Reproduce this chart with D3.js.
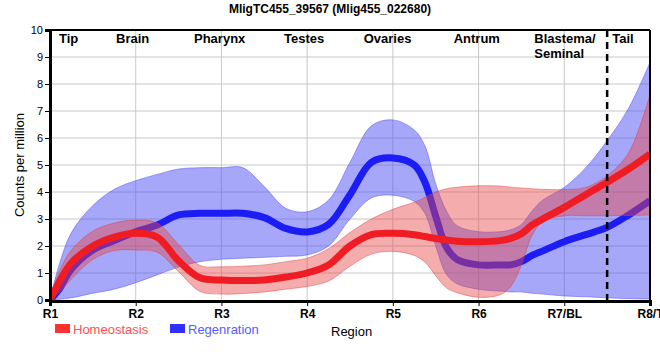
<!DOCTYPE html>
<html>
<head>
<meta charset="utf-8">
<script src="https://cdn.jsdelivr.net/npm/d3@7"></script>
<style>
    body { margin: 0; background: #fff; }
    svg text { font-family: "Liberation Sans", Arial, sans-serif; }
</style>
</head>
<body>
<div id="chart"></div>
<script>
// ---- data ----
const TITLE = 'MligTC455_39567 (Mlig455_022680)';
const regions = ['R1', 'R2', 'R3', 'R4', 'R5', 'R6', 'R7/BL', 'R8/T'];
const tissues = ['Tip', 'Brain', 'Pharynx', 'Testes', 'Ovaries', 'Antrum', 'Blastema/|Seminal', 'Tail'];
const yTicks = [0, 1, 2, 3, 4, 5, 6, 7, 8, 9, 10];
const legendNames = ['Homeostasis', 'Regenration'];

// position along the body (0 = R1 ... 7 = R8)
const xs = [0, 0.1, 0.25, 0.5, 0.75, 1, 1.25, 1.5, 1.75, 2, 2.25, 2.5, 2.75, 3, 3.25, 3.5, 3.75, 4,
    4.25, 4.375, 4.5, 4.625, 4.75, 5, 5.25, 5.375, 5.5, 5.625, 5.75, 6, 6.25, 6.5, 6.75, 7];

// homeostasis: fit + band
const homMean = [0, 0.62, 1.38, 2.0, 2.33, 2.47, 2.33, 1.45, 0.82, 0.74, 0.72, 0.74, 0.85, 1.0, 1.3, 2.0, 2.42, 2.47,
    2.42, 2.35, 2.28, 2.22, 2.18, 2.16, 2.2, 2.28, 2.45, 2.78, 3.0, 3.43, 3.9, 4.36, 4.85, 5.4];
const homUpper = [0, 1.0, 1.85, 2.55, 2.85, 2.96, 2.85, 2.05, 1.28, 1.23, 1.25, 1.3, 1.42, 1.55, 1.9, 2.5, 3.0, 3.36,
    3.62, 3.8, 4.0, 4.12, 4.18, 4.23, 4.22, 4.18, 4.15, 4.12, 4.1, 4.09, 4.17, 4.6, 5.45, 7.6];
const homLower = [0, 0.25, 0.78, 1.5, 1.83, 1.85, 1.77, 1.05, 0.32, 0.22, 0.24, 0.3, 0.4, 0.5, 0.7, 1.25, 1.7, 1.8,
    1.65, 1.4, 0.9, 0.45, 0.27, 0.1, 0.19, 0.5, 1.3, 2.4, 2.9, 3.12, 3.12, 3.12, 3.13, 3.15];

// regeneration: fit + band
const regMean = [0, 0.37, 1.15, 1.85, 2.2, 2.53, 2.78, 3.15, 3.21, 3.21, 3.21, 3.05, 2.65, 2.52, 2.8, 3.9, 5.1, 5.26,
    5.0, 4.35, 3.1, 1.95, 1.5, 1.3, 1.3, 1.3, 1.42, 1.65, 1.82, 2.16, 2.42, 2.69, 3.15, 3.68];
const regUpper = [0, 1.23, 2.5, 3.5, 4.1, 4.42, 4.65, 4.85, 4.9, 4.9, 4.9, 4.2, 3.4, 3.27, 3.7, 5.1, 6.45, 6.67,
    6.3, 5.7, 4.3, 3.3, 2.75, 2.53, 2.53, 2.6, 2.8, 3.3, 3.7, 4.17, 4.9, 5.9, 7.1, 8.8];
const regLower = [0, 0.02, 0.08, 0.25, 0.4, 0.64, 0.93, 1.22, 1.42, 1.51, 1.55, 1.58, 1.62, 1.67, 2.0, 3.0, 3.78, 3.88,
    3.65, 3.2, 2.0, 0.95, 0.6, 0.4, 0.33, 0.3, 0.3, 0.25, 0.22, 0.15, 0.12, 0.08, 0.05, 0.04];

// ---- layout ----
const WIDTH = 660;
const HEIGHT = 360;
const PLOT = { left: 50, right: 650, top: 30, bottom: 300 };
const TISSUE_X = [0.105, 0.77, 1.68, 2.73, 3.66, 4.71, 5.65, 6.56]; // left edge of each label, in region units
const DIVIDER = 6.5;  // dashed line between blastema and tail

const RED = '#f01c24';
const BLUE = '#1c1cf5';

const svg = d3.select('#chart').append('svg')
    .attr('width', WIDTH)
    .attr('height', HEIGHT);

const x = d3.scaleLinear().domain([0, regions.length - 1]).range([PLOT.left, PLOT.right]);
const y = d3.scaleLinear().domain([0, 10]).range([PLOT.bottom, PLOT.top]);

// grid
svg.append('g').selectAll('line').data(yTicks.slice(1, -1)).join('line')
    .attr('x1', PLOT.left).attr('x2', PLOT.right)
    .attr('y1', d => y(d)).attr('y2', d => y(d))
    .attr('stroke', '#c8c8c8');
svg.append('g').selectAll('line').data(d3.range(1, regions.length - 1)).join('line')
    .attr('x1', d => x(d)).attr('x2', d => x(d))
    .attr('y1', PLOT.top).attr('y2', PLOT.bottom)
    .attr('stroke', '#c8c8c8');

svg.append('clipPath').attr('id', 'plotClip')
    .append('rect')
    .attr('x', PLOT.left).attr('y', PLOT.top)
    .attr('width', PLOT.right - PLOT.left).attr('height', PLOT.bottom - PLOT.top);

const plot = svg.append('g').attr('clip-path', 'url(#plotClip)');

const curve = d3.curveCatmullRom.alpha(0.5);
const band = (lo, hi) => d3.area()
    .x((d, i) => x(xs[i]))
    .y0((d, i) => y(lo[i]))
    .y1((d, i) => y(hi[i]))
    .curve(curve)(xs);
const fit = vals => d3.line()
    .x((d, i) => x(xs[i]))
    .y((d, i) => y(vals[i]))
    .curve(curve)(xs);

// regeneration first, homeostasis drawn over it
plot.append('path').attr('d', band(regLower, regUpper))
    .attr('fill', 'rgb(80,80,245)').attr('fill-opacity', 0.5)
    .attr('stroke', 'rgb(80,80,245)').attr('stroke-opacity', 0.5);
plot.append('path').attr('d', fit(regMean))
    .attr('fill', 'none').attr('stroke', BLUE).attr('stroke-width', 7);

plot.append('path').attr('d', band(homLower, homUpper))
    .attr('fill', 'rgb(230,70,70)').attr('fill-opacity', 0.45)
    .attr('stroke', 'rgb(220,60,60)').attr('stroke-opacity', 0.45);
plot.append('path').attr('d', fit(homMean))
    .attr('fill', 'none').attr('stroke', RED).attr('stroke-width', 7);

// dashed divider
svg.append('line')
    .attr('x1', x(DIVIDER)).attr('x2', x(DIVIDER))
    .attr('y1', PLOT.top).attr('y2', PLOT.bottom + 5)
    .attr('stroke', '#000').attr('stroke-width', 2.5)
    .attr('stroke-dasharray', '7,5');

// frame
svg.append('line').attr('x1', PLOT.left).attr('x2', PLOT.right).attr('y1', PLOT.top).attr('y2', PLOT.top)
    .attr('stroke', '#000').attr('stroke-width', 2);
svg.append('line').attr('x1', PLOT.right).attr('x2', PLOT.right).attr('y1', PLOT.top).attr('y2', PLOT.bottom)
    .attr('stroke', '#000').attr('stroke-width', 2);

// axes
const yAxis = svg.append('g')
    .attr('transform', `translate(${PLOT.left},0)`)
    .call(d3.axisLeft(y).tickValues(yTicks).tickSize(5).tickPadding(2));
yAxis.select('.domain').attr('stroke-width', 3);
yAxis.selectAll('text').attr('font-size', 11).attr('fill', '#000');

const xAxis = svg.append('g')
    .attr('transform', `translate(0,${PLOT.bottom + 1})`)
    .call(d3.axisBottom(x).tickValues(d3.range(regions.length)).tickFormat(i => regions[i]).tickSize(5).tickPadding(3));
xAxis.select('.domain').attr('stroke-width', 3);
xAxis.selectAll('text').attr('font-size', 12).attr('font-weight', 'bold').attr('fill', '#000');

// tissue labels
tissues.forEach((t, i) => {
    const txt = svg.append('text')
        .attr('x', x(TISSUE_X[i]))
        .attr('y', 43)
        .attr('font-size', 13)
        .attr('font-weight', 'bold');
    t.split('|').forEach((part, j) => {
        txt.append('tspan').attr('x', x(TISSUE_X[i])).attr('dy', j ? 15 : 0).text(part);
    });
});

// title
svg.append('text')
    .attr('x', 330).attr('y', 13)
    .attr('text-anchor', 'middle')
    .attr('font-size', 12).attr('font-weight', 'bold')
    .text(TITLE);

// axis titles
svg.append('text')
    .attr('transform', 'translate(24,165) rotate(-90)')
    .attr('text-anchor', 'middle')
    .attr('font-size', 13)
    .text('Counts per million');
svg.append('text')
    .attr('x', 331).attr('y', 336)
    .attr('font-size', 13)
    .text('Region');

// legend
const legendX = [55, 170];
const legendFill = ['#ff3030', '#3030ff'];
const legendText = ['rgb(255,80,80)', 'rgb(90,90,255)'];
legendNames.forEach((name, i) => {
    svg.append('rect')
        .attr('x', legendX[i]).attr('y', 324)
        .attr('width', 15).attr('height', 9)
        .attr('fill', legendFill[i]);
    svg.append('text')
        .attr('x', legendX[i] + 18).attr('y', 334)
        .attr('font-size', 13)
        .attr('fill', legendText[i])
        .text(name);
});
</script>
</body>
</html>
